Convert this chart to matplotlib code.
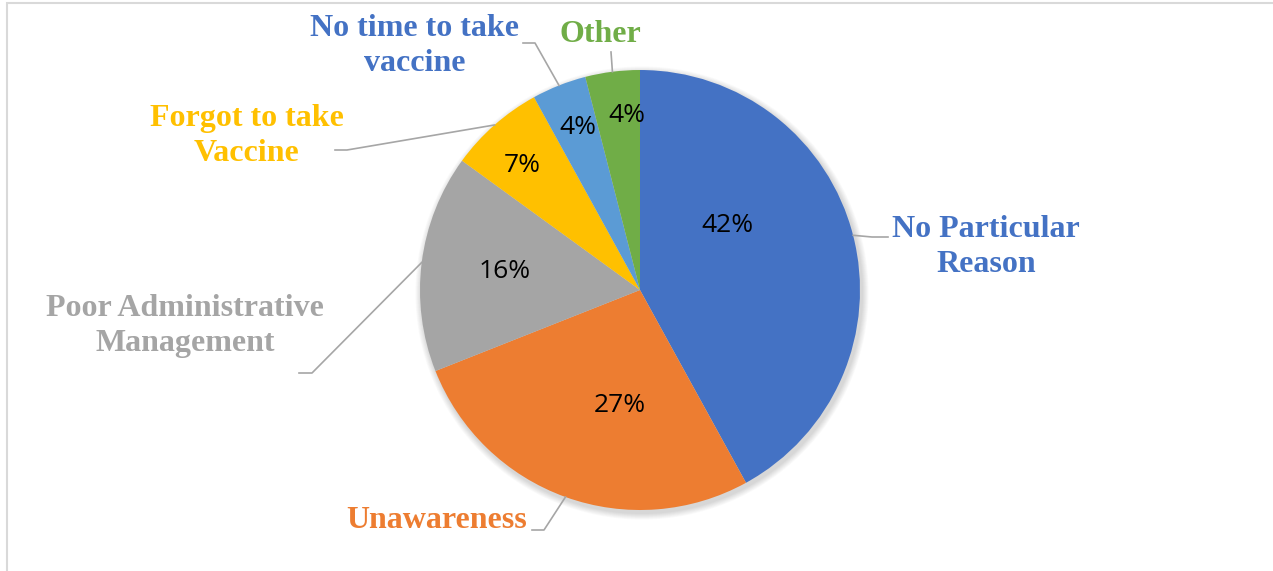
import numpy as np
import matplotlib.pyplot as plt
from matplotlib.patches import Rectangle, Circle

categories = ['No Particular\nReason', 'Unawareness', 'Poor Administrative\nManagement',
              'Forgot to take\nVaccine', 'No time to take\nvaccine', 'Other']
values = [42, 27, 16, 7, 4, 4]
colors = ['#4472C4', '#ED7D31', '#A5A5A5', '#FFC000', '#5B9BD5', '#70AD47']
label_colors = ['#4472C4', '#ED7D31', '#A5A5A5', '#FFC000', '#4472C4', '#70AD47']

W, H = 1273, 571
fig = plt.figure(figsize=(W / 100, H / 100), dpi=100)
ax = fig.add_axes([0, 0, 1, 1])


def py(y):
    # pixel row -> data y
    return H - y


cx, cy, r = 640, py(290), 220

# chart frame
ax.add_patch(Rectangle((7, -10), W + 20, py(3) + 10, fill=False, ec='#D9D9D9', lw=1.5))

# soft shadow
for k in range(8):
    ax.add_patch(Circle((cx + 2, cy - 3), r + 1 + k * 0.8, color='black', alpha=0.018, lw=0, zorder=1))

wedges, _, autotexts = ax.pie(values, colors=colors, startangle=90, counterclock=False,
                              center=(cx, cy), radius=r, autopct='%1.0f%%',
                              textprops=dict(fontsize=19, family='Open Sans', color='black'),
                              wedgeprops=dict(lw=0, zorder=2), frame=True)
ax.set_xlim(0, W)
ax.set_ylim(0, H)
ax.set_aspect('equal')
ax.axis('off')

pct_pos = [(727, 226), (620, 406), (505, 271), (522, 166), (578, 128), (627, 115)]
for t, (x, y) in zip(autotexts, pct_pos):
    t.set_position((x, py(y)))
    t.set_zorder(5)

# outside labels and leader lines
label_pos = [(986, 247), (437, 520), (185, 326), (247, 136), (415, 46), (600, 34)]
elbows = [[(872, 237), (888, 237)],
          [(544, 530), (532, 530)],
          [(312, 373), (299, 373)],
          [(347, 150), (335, 150)],
          [(535, 43), (523, 43)],
          [(611, 52)]]

ang = 90.0
for i, v in enumerate(values):
    mid = np.deg2rad(ang - v * 3.6 / 2)
    ang -= v * 3.6
    sx, sy = cx + r * np.cos(mid), cy + r * np.sin(mid)
    xs = [sx] + [p[0] for p in elbows[i]]
    ys = [sy] + [py(p[1]) for p in elbows[i]]
    ax.plot(xs, ys, color='#A6A6A6', lw=1.2, zorder=3)
    lx, ly = label_pos[i]
    ax.text(lx, py(ly), categories[i], ha='center', va='center', color=label_colors[i],
            fontsize=23, family='Liberation Serif', fontweight='bold', linespacing=1.3)

fig.savefig('out.png', dpi=100)
